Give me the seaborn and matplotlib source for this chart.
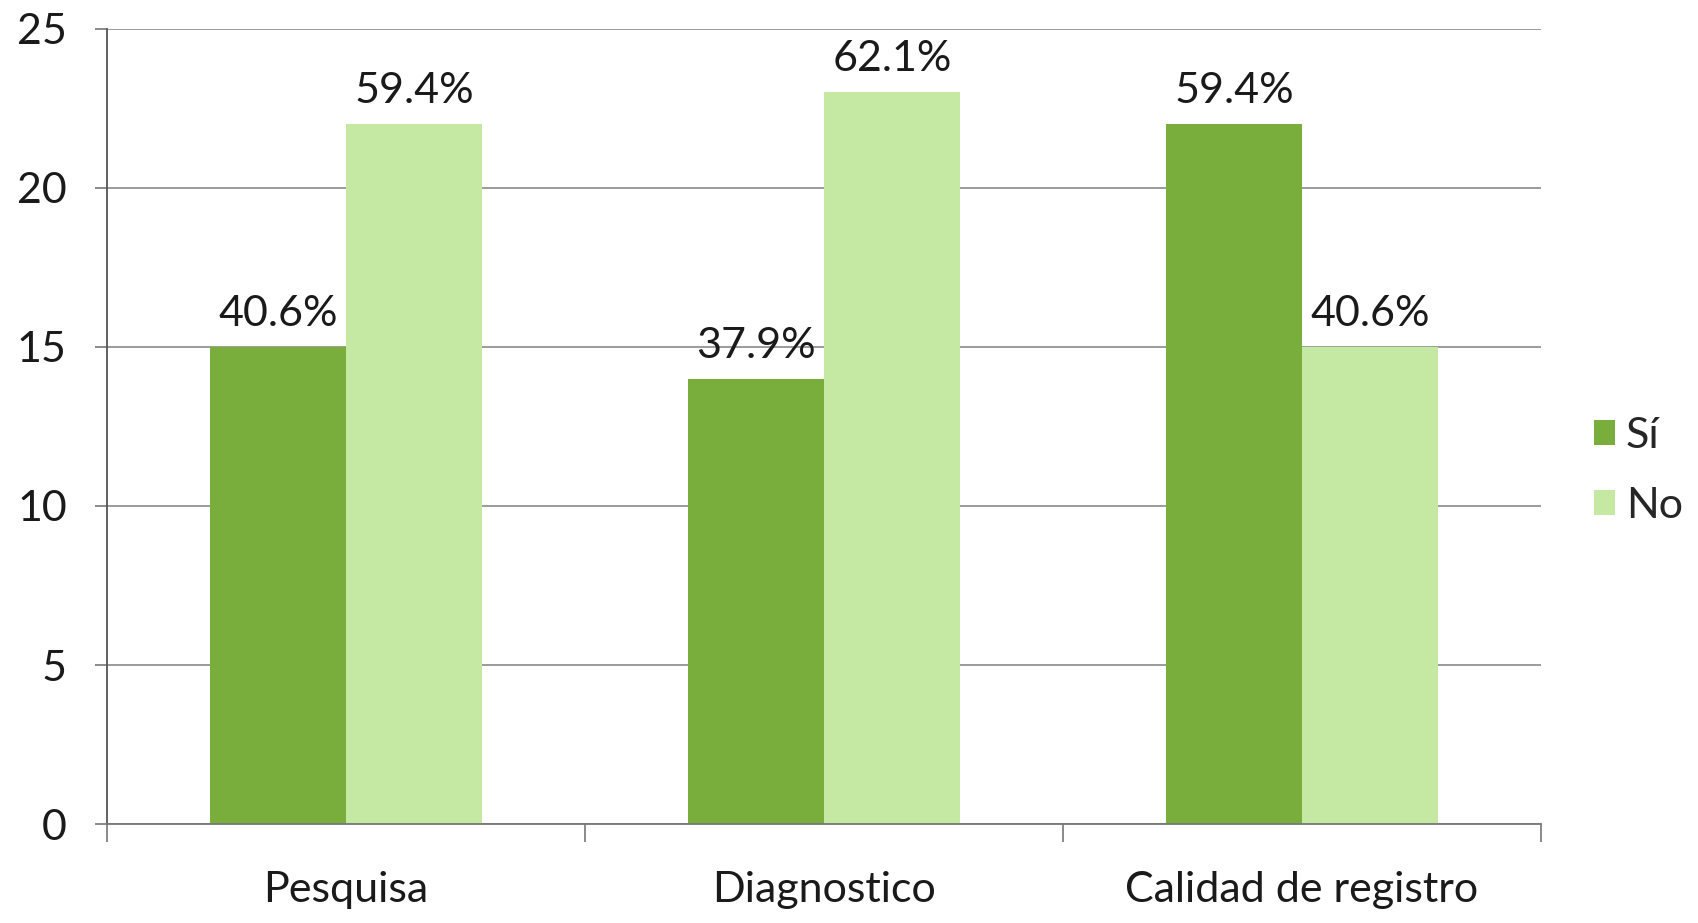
import matplotlib
matplotlib.use("Agg")
import matplotlib.pyplot as plt
from matplotlib.patches import Patch
import seaborn as sns
import pandas as pd

categories = ["Pesquisa", "Diagnostico", "Calidad de registro"]
series_names = ["Sí", "No"]
si_values = [15, 14, 22]
no_values = [22, 23, 15]
si_labels = ["40.6%", "37.9%", "59.4%"]
no_labels = ["59.4%", "62.1%", "40.6%"]
y_ticks = [0, 5, 10, 15, 20, 25]

colors = {"Sí": "#79ad3c", "No": "#c5e8a3"}

df = pd.DataFrame({
    "categoria": categories * 2,
    "serie": [series_names[0]] * len(categories) + [series_names[1]] * len(categories),
    "valor": si_values + no_values,
    "etiqueta": si_labels + no_labels,
})

sns.set_style("white")
plt.rcParams["font.family"] = ["Lato", "DejaVu Sans"]

fig = plt.figure(figsize=(16.99, 9.23), dpi=100)
ax = fig.add_axes([0.063, 0.107, 0.844, 0.862])

sns.barplot(data=df, x="categoria", y="valor", hue="serie", order=categories,
            hue_order=series_names, palette=colors, width=0.57, saturation=1,
            linewidth=0, legend=False, ax=ax)

# value labels above each bar
for container, name in zip(ax.containers, series_names):
    labels = df[df["serie"] == name]["etiqueta"].tolist()
    ax.bar_label(container, labels=labels, padding=10, fontsize=31, color="#1a1a1a")

ax.set_ylim(0, 25)
ax.set_xlim(-0.5, len(categories) - 0.5)
ax.set_yticks(y_ticks)
ax.yaxis.grid(True, color="#8a8a8a", linewidth=1.2)
ax.set_axisbelow(True)

for side in ["top", "right"]:
    ax.spines[side].set_visible(False)
ax.spines["left"].set_color("#555555")
ax.spines["bottom"].set_color("#777777")
ax.spines["left"].set_linewidth(1.3)
ax.spines["bottom"].set_linewidth(1.3)

ax.tick_params(axis="y", left=True, length=9, width=1.2, color="#777777",
               labelsize=31, pad=20, labelcolor="#1a1a1a")
ax.tick_params(axis="x", which="major", bottom=False, length=0, labelsize=31,
               pad=34, labelcolor="#1a1a1a")
ax.set_xticks([i - 0.5 for i in range(len(categories) + 1)], minor=True)
ax.tick_params(axis="x", which="minor", bottom=True, length=13, width=1.2,
               color="#777777", direction="out")
ax.set_xlabel("")
ax.set_ylabel("")

handles = [Patch(facecolor=colors[n], edgecolor="none") for n in series_names]
fig.legend(handles, series_names, loc="center left", bbox_to_anchor=(0.938, 0.49),
           frameon=False, fontsize=31, handlelength=0.5, handleheight=0.5,
           handletextpad=0.25, labelspacing=0.75, borderpad=0, borderaxespad=0)

fig.savefig("out.png", dpi=100, facecolor="white")
